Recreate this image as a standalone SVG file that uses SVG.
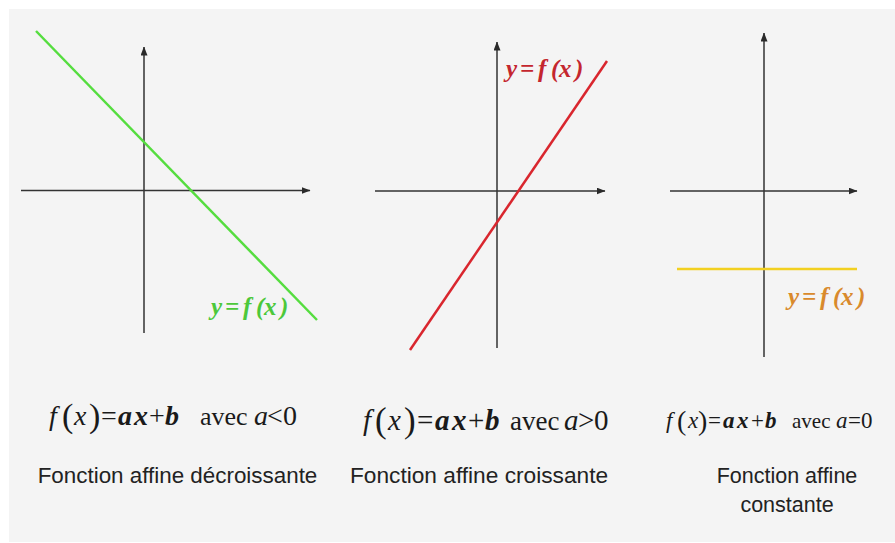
<svg xmlns="http://www.w3.org/2000/svg" width="895" height="543" viewBox="0 0 895 543">
<defs>
<marker id="ah" viewBox="0 0 9 7" refX="8.5" refY="3.5" markerWidth="9" markerHeight="7" markerUnits="userSpaceOnUse" orient="auto">
<path d="M0,0 L9,3.5 L0,7 z" fill="#2a2a2a"/>
</marker>
<style>
.ax{stroke:#333;stroke-width:1.5;fill:none;marker-end:url(#ah)}
text{font-family:"Liberation Serif","Times New Roman",serif}
.m{fill:#1a1a1a}
.i{font-style:italic}
.bi{font-style:italic;font-weight:bold}
.lbl{font-family:"Liberation Sans",Arial,sans-serif;fill:#222;text-anchor:middle}
.fx{font-style:italic;font-weight:bold;font-size:25px}
.p1{font-size:28px}
.p2{font-size:29px}
.p3{font-size:23px}
</style>
</defs>
<rect x="0" y="0" width="895" height="543" fill="#ffffff"/>
<rect x="9" y="9" width="886" height="533" fill="#f4f4f4"/>

<g id="panel-decroissante">
<line class="ax" x1="144" y1="333" x2="144" y2="47"/>
<line class="ax" x1="21" y1="190.5" x2="310" y2="190.5"/>
<line x1="36" y1="31" x2="317" y2="320" stroke="#55dd3f" stroke-width="2.5"/>
<g fill="#4cc83a">
<text class="fx" x="211" y="315">y</text><text class="fx" x="225" y="315">=</text><text class="fx" x="243" y="315">f</text><text class="fx" x="256" y="315">(</text><text class="fx" x="264" y="315">x</text><text class="fx" x="280" y="315">)</text>
</g>
<g class="m p1">
<text class="i" x="49" y="425">f</text>
<text x="62" y="427" font-size="34">(</text>
<text class="i" x="74" y="425">x</text>
<text x="89" y="427" font-size="34">)</text>
<text x="101" y="425">=</text>
<text class="bi" x="118" y="425">a</text>
<text class="bi" x="134" y="425">x</text>
<text x="149" y="425">+</text>
<text class="bi" x="165" y="425">b</text>
<text x="200" y="425" font-size="26">avec</text>
<text class="i" x="254" y="425">a</text>
<text x="267" y="425">&lt;</text>
<text x="283" y="425">0</text>
</g>
<text class="lbl" x="177.5" y="483" font-size="22.4">Fonction affine décroissante</text>
</g>

<g id="panel-croissante">
<line class="ax" x1="497" y1="348" x2="497" y2="42"/>
<line class="ax" x1="375" y1="191" x2="605" y2="191"/>
<line x1="410" y1="350" x2="607" y2="61" stroke="#d9262e" stroke-width="2.5"/>
<g fill="#c4262e">
<text class="fx" x="506" y="77">y</text><text class="fx" x="520" y="77">=</text><text class="fx" x="538" y="77">f</text><text class="fx" x="551" y="77">(</text><text class="fx" x="559" y="77">x</text><text class="fx" x="575" y="77">)</text>
</g>
<g class="m p2">
<text class="i" x="363" y="430">f</text>
<text x="375" y="432" font-size="35">(</text>
<text class="i" x="388" y="430">x</text>
<text x="404" y="432" font-size="35">)</text>
<text x="417" y="430">=</text>
<text class="bi" x="435" y="430">a</text>
<text class="bi" x="452" y="430">x</text>
<text x="468" y="430">+</text>
<text class="bi" x="485" y="430">b</text>
<text x="510" y="430" font-size="27">avec</text>
<text class="i" x="564" y="430">a</text>
<text x="578" y="430">&gt;</text>
<text x="594" y="430">0</text>
</g>
<text class="lbl" x="479" y="483" font-size="22.7">Fonction affine croissante</text>
</g>

<g id="panel-constante">
<line class="ax" x1="764" y1="357" x2="764" y2="33"/>
<line class="ax" x1="670" y1="191" x2="857" y2="191"/>
<line x1="677" y1="269" x2="857" y2="269" stroke="#f2d020" stroke-width="2.5"/>
<g fill="#d98a2c">
<text class="fx" x="788" y="305">y</text><text class="fx" x="802" y="305">=</text><text class="fx" x="820" y="305">f</text><text class="fx" x="833" y="305">(</text><text class="fx" x="841" y="305">x</text><text class="fx" x="857" y="305">)</text>
</g>
<g class="m p3">
<text class="i" x="666" y="428">f</text>
<text x="677" y="430" font-size="28">(</text>
<text class="i" x="688" y="428">x</text>
<text x="698" y="430" font-size="28">)</text>
<text x="708" y="428">=</text>
<text class="bi" x="723" y="428">a</text>
<text class="bi" x="737" y="428">x</text>
<text x="751" y="428">+</text>
<text class="bi" x="765" y="428">b</text>
<text x="792" y="428" font-size="21">avec</text>
<text class="i" x="836" y="428">a</text>
<text x="848" y="428">=</text>
<text x="861" y="428">0</text>
</g>
<text class="lbl" x="787" y="483" font-size="21.5">Fonction affine</text>
<text class="lbl" x="787" y="512" font-size="21.5">constante</text>
</g>
</svg>
